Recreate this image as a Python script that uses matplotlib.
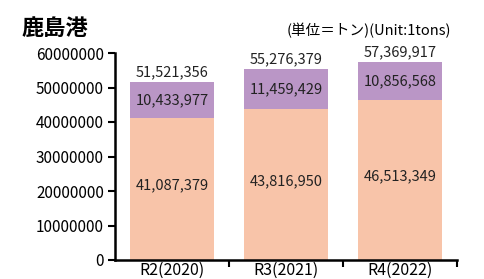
import matplotlib
matplotlib.use("Agg")
import matplotlib.pyplot as plt
import numpy as np

plt.rcParams['font.family'] = ['Noto Sans CJK JP', 'DejaVu Sans']

categories = ["R2(2020)", "R3(2021)", "R4(2022)"]
lower = [41087379, 43816950, 46513349]
upper = [10433977, 11459429, 10856568]
totals = [51521356, 55276379, 57369917]
yticks = [0, 10000000, 20000000, 30000000, 40000000, 50000000, 60000000]

c_lower = "#F8C4A9"
c_upper = "#BA96C6"

fig = plt.figure(figsize=(4.84, 2.79), dpi=100)
ax = fig.add_axes([115/484, 1-260/279, (457-115)/484, (260-53)/279])

x = np.arange(len(categories))
ax.bar(x, lower, width=0.73, color=c_lower)
ax.bar(x, upper, bottom=lower, width=0.73, color=c_upper)

for i in range(len(categories)):
    ax.text(x[i], lower[i]/2 + 1000000, f"{lower[i]:,}", ha="center", va="center", fontsize=10.5, color="#222222")
    ax.text(x[i], lower[i] + upper[i]/2, f"{upper[i]:,}", ha="center", va="center", fontsize=10.5, color="#222222")
    ax.text(x[i], totals[i] + 800000, f"{totals[i]:,}", ha="center", va="bottom", fontsize=10.5, color="#222222")

ax.set_xlim(-0.5, len(categories)-0.5)
ax.set_ylim(0, 60000000)
ax.set_yticks(yticks)
ax.set_yticklabels([str(v) for v in yticks], fontsize=11)
ax.set_xticks(x)
ax.set_xticklabels(categories, fontsize=11.5)
ax.tick_params(axis='x', length=0, pad=1)
ax.set_xticks(np.arange(len(categories)) + 0.5, minor=True)
ax.tick_params(axis='x', which='minor', length=5, width=1.5, direction='out')
ax.tick_params(axis='y', length=5, width=1.5, direction='out', pad=3)

for s in ['top', 'right']:
    ax.spines[s].set_visible(False)
for s in ['left', 'bottom']:
    ax.spines[s].set_linewidth(1.8)

fig.text(22/484, 1-28/279, "鹿島港", fontsize=16, fontweight='bold', ha='left', va='center')
fig.text(451/484, 1-31/279, "(単位＝トン)(Unit:1tons)", fontsize=10.5, ha='right', va='center')

fig.savefig("out.png", dpi=100)
